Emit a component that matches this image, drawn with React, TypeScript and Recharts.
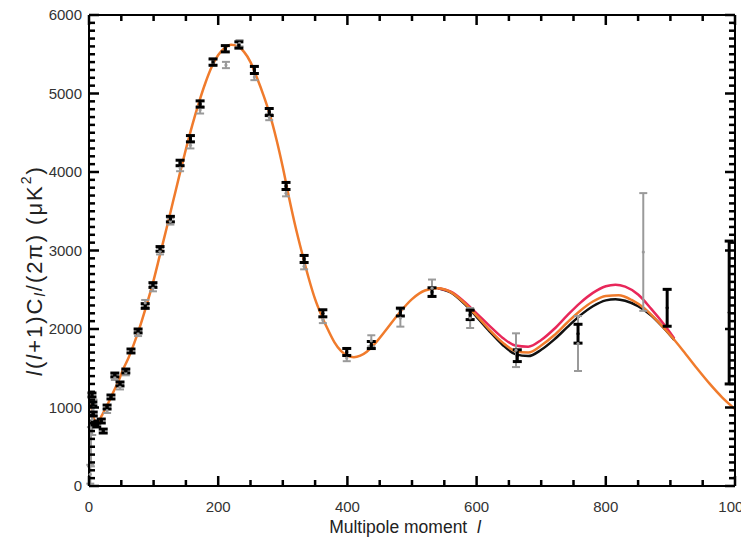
import React from "react"
import { ComposedChart, Line, Scatter, ErrorBar, XAxis, YAxis } from "recharts"

// model curves: [multipole l, l(l+1)Cl/2pi]
const orangeCurve: [number, number][] = [
   [2, 1100], [5, 950], [8, 850], [12, 810], [16, 840], [20, 900], [25, 980],
   [30, 1060], [37, 1185], [45, 1325], [53, 1490], [60, 1610], [70, 1820],
   [80, 2060], [90, 2330], [100, 2620], [110, 2950], [120, 3280], [130, 3620],
   [140, 3960], [150, 4290], [160, 4600], [170, 4880], [180, 5130], [190, 5340],
   [200, 5490], [210, 5580], [220, 5620], [230, 5600], [240, 5530], [250, 5400],
   [260, 5200], [270, 4980], [280, 4730], [290, 4420], [300, 4060], [310, 3660],
   [320, 3290], [330, 2960], [340, 2650], [350, 2380], [360, 2170], [370, 1990],
   [380, 1830], [390, 1720], [400, 1660], [410, 1640], [420, 1660], [430, 1710],
   [440, 1790], [460, 1990], [480, 2200], [500, 2380], [520, 2490], [540, 2520],
   [560, 2470], [580, 2340], [600, 2170], [620, 1990], [640, 1830], [660, 1720],
   [680, 1700], [700, 1790], [720, 1920], [740, 2080], [760, 2230], [780, 2350],
   [800, 2420], [820, 2430], [840, 2370], [860, 2260], [880, 2100], [900, 1920],
   [920, 1720], [940, 1510], [960, 1310], [980, 1130], [1000, 980],
]

const redCurve: [number, number][] = [
   [540, 2520], [560, 2475], [580, 2355], [600, 2200], [620, 2040], [640, 1890],
   [660, 1790], [680, 1775], [700, 1860], [720, 2000], [740, 2170], [760, 2330],
   [780, 2460], [800, 2545], [815, 2565], [830, 2540], [850, 2440], [870, 2260],
   [890, 2060], [906, 1880],
]

const blackCurve: [number, number][] = [
   [540, 2520], [560, 2465], [580, 2330], [600, 2155], [620, 1970], [640, 1800],
   [660, 1680], [680, 1655], [700, 1735], [720, 1865], [740, 2020], [760, 2170],
   [780, 2290], [800, 2365], [815, 2380], [830, 2360], [850, 2290], [870, 2175],
   [890, 2010], [906, 1860],
]

// measured band powers: [l, value, error]
const blackPoints: [number, number, number][] = [
   [4.6, 1160, 25], [6, 1045, 25], [6.5, 917, 25], [9, 803, 25], [12, 777, 25],
   [19, 828, 25], [22, 700, 25], [28, 1006, 25], [34, 1134, 25], [40, 1414, 25],
   [48, 1300, 25], [57, 1465, 25], [65, 1720, 25], [76, 1975, 25], [87, 2293, 30],
   [99, 2560, 30], [110, 3020, 30], [126, 3400, 35], [141, 4115, 35], [157, 4424, 40],
   [172, 4866, 40], [192, 5400, 40], [211, 5570, 40], [232, 5618, 40], [256, 5300, 45],
   [279, 4764, 45], [305, 3822, 45], [333, 2892, 45], [362, 2200, 45], [399, 1707, 45],
   [437, 1796, 45], [482, 2216, 50], [531, 2470, 55], [590, 2180, 60], [663, 1660, 75],
   [757, 1940, 120], [895, 2270, 235], [991, 2210, 910],
]

const grayPoints: [number, number, number][] = [
   [2, 150, 120], [3, 500, 250], [5, 850, 200], [7, 1000, 100], [28, 960, 30],
   [40, 1380, 30], [48, 1260, 30], [57, 1440, 30], [76, 1940, 30], [87, 2330, 40],
   [99, 2520, 40], [110, 2990, 40], [126, 3370, 40], [141, 4050, 40], [157, 4340, 40],
   [172, 4790, 45], [192, 5400, 45], [212, 5363, 40], [233, 5640, 40], [256, 5210, 40],
   [279, 4700, 40], [305, 3730, 40], [333, 2800, 40], [362, 2115, 40], [399, 1630, 40],
   [437, 1850, 70], [482, 2140, 110], [531, 2520, 110], [590, 2140, 127], [661, 1730, 215],
   [757, 1815, 350], [858, 2981, 750],
]

const xTicks = [0, 50, 100, 150, 200, 250, 300, 350, 400, 450, 500, 550, 600, 650, 700, 750, 800, 850, 900, 950, 1000]
const yTicks = [
   0, 100, 200, 300, 400, 500, 600, 700, 800, 900, 1000, 1100, 1200, 1300, 1400, 1500, 1600, 1700, 1800, 1900,
   2000, 2100, 2200, 2300, 2400, 2500, 2600, 2700, 2800, 2900, 3000, 3100, 3200, 3300, 3400, 3500, 3600, 3700,
   3800, 3900, 4000, 4100, 4200, 4300, 4400, 4500, 4600, 4700, 4800, 4900, 5000, 5100, 5200, 5300, 5400, 5500,
   5600, 5700, 5800, 5900, 6000,
]

const FONT = "'Liberation Sans', Arial, Helvetica, sans-serif"

const toCurve = (rows: [number, number][]) => rows.map(([l, v]) => ({ l, v }))
const toPoints = (rows: [number, number, number][]) => rows.map(([l, v, e]) => ({ l, v, e }))

// inward tick marks, drawn as thin filled rects at the position the axis hands over
const bottomTick = (props: any) => {
   const x = Number(props.x)
   const y = Number(props.y)
   const v = props.payload.value
   const major = v % 200 === 0
   const len = major ? 10 : 6
   return (
      <g>
         <rect x={x - 1.25} y={y - len} width={2.5} height={len} fill="#000" />
         {major && (
            <text x={x} y={y + 26} textAnchor="middle" fontSize={15} fill="#333" fontFamily={FONT}>
               {v}
            </text>
         )}
      </g>
   )
}

const topTick = (props: any) => {
   const x = Number(props.x)
   const y = Number(props.y)
   const len = props.payload.value % 200 === 0 ? 10 : 6
   return <rect x={x - 1.25} y={y} width={2.5} height={len} fill="#000" />
}

const leftTick = (props: any) => {
   const x = Number(props.x)
   const y = Number(props.y)
   const v = props.payload.value
   const major = v % 1000 === 0
   const len = major ? 10 : 6
   return (
      <g>
         <rect x={x} y={y - 1.25} width={len} height={2.5} fill="#000" />
         {major && (
            <text x={x - 7} y={y + 5} textAnchor="end" fontSize={15} fill="#333" fontFamily={FONT}>
               {v}
            </text>
         )}
      </g>
   )
}

const rightTick = (props: any) => {
   const x = Number(props.x)
   const y = Number(props.y)
   const len = props.payload.value % 1000 === 0 ? 10 : 6
   return <rect x={x - len} y={y - 1.25} width={len} height={2.5} fill="#000" />
}

const YLabel = (props: any) => {
   const { viewBox } = props
   const cx = viewBox.x + 5
   const cy = viewBox.y + viewBox.height / 2 + 20
   return (
      <text
         transform={`translate(${cx},${cy}) rotate(-90)`}
         textAnchor="middle"
         dominantBaseline="central"
         fontSize={22}
         letterSpacing={2}
         fill="#222"
         fontFamily={FONT}
      >
         <tspan fontStyle="italic">l</tspan>(<tspan fontStyle="italic">l</tspan>+1)C
         <tspan dy={5} fontSize={15} fontStyle="italic">l</tspan>
         <tspan dy={-5}>/(2π) (μK</tspan>
         <tspan dy={-8} fontSize={14}>2</tspan>
         <tspan dy={8}>)</tspan>
      </text>
   )
}

const XLabel = (props: any) => {
   const { viewBox } = props
   return (
      <text
         x={viewBox.x + viewBox.width / 2 - 7}
         y={viewBox.y + 47}
         textAnchor="middle"
         fontSize={17.5}
         fill="#222"
         fontFamily={FONT}
      >
         Multipole moment{"\u00a0\u00a0"}
         <tspan fontStyle="italic">l</tspan>
      </text>
   )
}

const Dot = (color: string) => (p: any) => <circle cx={p.cx} cy={p.cy} r={1.6} fill={color} />

export default function App() {
   return (
      <ComposedChart width={741} height={531} margin={{ top: 6, right: 13, bottom: 0, left: 21 }}>
         <XAxis
            xAxisId="bottom"
            type="number"
            dataKey="l"
            domain={[0, 1000]}
            ticks={xTicks}
            interval={0}
            tickSize={0}
            tickMargin={0}
            height={53}
            axisLine={{ stroke: "#000", strokeWidth: 2 }}
            tickLine={false}
            tick={bottomTick}
            label={<XLabel />}
         />
         <XAxis
            xAxisId="top"
            orientation="top"
            type="number"
            dataKey="l"
            domain={[0, 1000]}
            ticks={xTicks}
            interval={0}
            tickSize={0}
            tickMargin={0}
            height={1}
            axisLine={{ stroke: "#000", strokeWidth: 2 }}
            tickLine={false}
            tick={topTick}
         />
         <YAxis
            yAxisId="left"
            type="number"
            dataKey="v"
            domain={[0, 6000]}
            ticks={yTicks}
            interval={0}
            tickSize={0}
            tickMargin={0}
            width={60}
            axisLine={{ stroke: "#000", strokeWidth: 2 }}
            tickLine={false}
            tick={leftTick}
            label={<YLabel />}
         />
         <YAxis
            yAxisId="right"
            orientation="right"
            type="number"
            dataKey="v"
            domain={[0, 6000]}
            ticks={yTicks}
            interval={0}
            tickSize={0}
            tickMargin={0}
            width={1}
            axisLine={{ stroke: "#000", strokeWidth: 2 }}
            tickLine={false}
            tick={rightTick}
         />
         <Line
            xAxisId="bottom"
            yAxisId="left"
            data={toCurve(blackCurve)}
            dataKey="v"
            type="monotone"
            stroke="#111"
            strokeWidth={2.5}
            dot={false}
            isAnimationActive={false}
         />
         <Line
            xAxisId="bottom"
            yAxisId="left"
            data={toCurve(redCurve)}
            dataKey="v"
            type="monotone"
            stroke="#e8275a"
            strokeWidth={2.5}
            dot={false}
            isAnimationActive={false}
         />
         <Line
            xAxisId="bottom"
            yAxisId="left"
            data={toCurve(orangeCurve)}
            dataKey="v"
            type="monotone"
            stroke="#f07b2c"
            strokeWidth={2.5}
            dot={false}
            isAnimationActive={false}
         />
         <Scatter
            xAxisId="top"
            yAxisId="right"
            data={toPoints(grayPoints)}
            dataKey="v"
            shape={Dot("#999")}
            isAnimationActive={false}
         >
            <ErrorBar dataKey="e" direction="y" width={4} stroke="#9a9a9a" strokeWidth={2} isAnimationActive={false} />
         </Scatter>
         <Scatter
            xAxisId="bottom"
            yAxisId="left"
            data={toPoints(blackPoints)}
            dataKey="v"
            shape={Dot("#000")}
            isAnimationActive={false}
         >
            <ErrorBar dataKey="e" direction="y" width={4.5} stroke="#000" strokeWidth={3} isAnimationActive={false} />
         </Scatter>
      </ComposedChart>
   )
}
